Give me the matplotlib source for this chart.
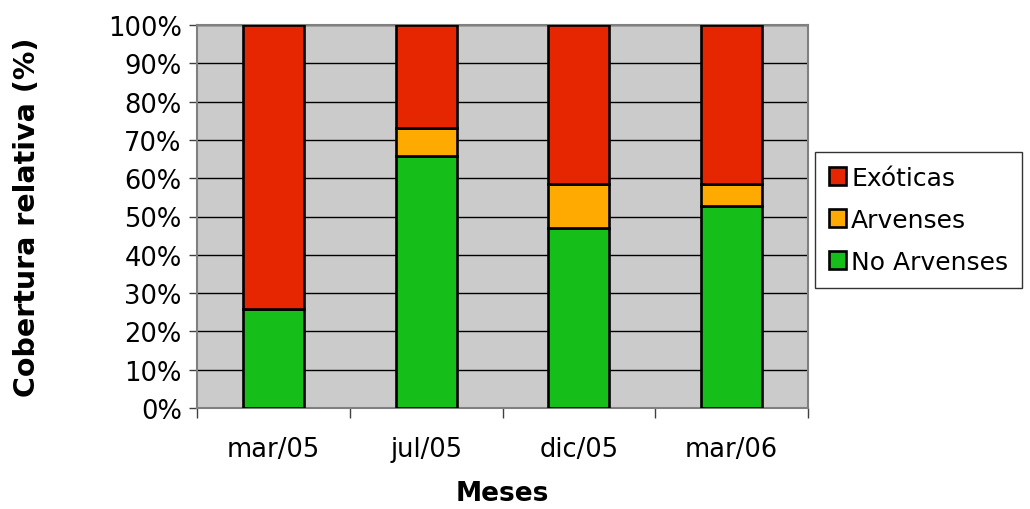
import matplotlib
matplotlib.use("Agg")
import matplotlib.pyplot as plt
import numpy as np
from matplotlib.ticker import FixedLocator, PercentFormatter

meses = ["mar/05", "jul/05", "dic/05", "mar/06"]
no_arvenses = [25.8, 65.7, 47.1, 52.8]
arvenses = [0.0, 7.3, 11.3, 5.6]
exoticas = [74.2, 27.0, 41.6, 41.6]

C_GREEN = "#16BE1A"
C_ORANGE = "#FFAA00"
C_RED = "#E62600"

plt.rcParams["font.family"] = "DejaVu Sans"

fig = plt.figure(figsize=(10.3, 5.1), dpi=100)
ax = fig.add_axes([197 / 1030, 1 - 409 / 510, 611 / 1030, 383 / 510])
ax.set_facecolor("#CBCBCB")

x = np.arange(len(meses))
no_arv = np.array(no_arvenses)
arv = np.array(arvenses)
exo = np.array(exoticas)
total = no_arv + arv + exo
no_arv, arv, exo = no_arv / total * 100, arv / total * 100, exo / total * 100

kw = dict(width=0.4, edgecolor="black", linewidth=1.9, zorder=3)
b1 = ax.bar(x, no_arv, color=C_GREEN, label="No Arvenses", **kw)
b2 = ax.bar(x, arv, bottom=no_arv, color=C_ORANGE, label="Arvenses", **kw)
b3 = ax.bar(x, exo, bottom=no_arv + arv, color=C_RED, label="Exóticas", **kw)

ax.set_xlim(-0.5, len(meses) - 0.5)
ax.set_ylim(0, 100)
ax.set_yticks(np.arange(0, 101, 10))
ax.yaxis.set_major_formatter(PercentFormatter(decimals=0))
ax.yaxis.grid(True, color="black", linewidth=1.0, zorder=1)
ax.set_axisbelow(True)

ax.xaxis.set_major_locator(FixedLocator(np.arange(-0.5, len(meses), 1.0)))
ax.xaxis.set_minor_locator(FixedLocator(x))
ax.set_xticklabels([], minor=False)
ax.set_xticklabels(meses, minor=True)
ax.tick_params(axis="x", which="major", length=7, width=1, color="#404040")
ax.tick_params(axis="x", which="minor", length=0, pad=20, labelsize=18.5)
ax.tick_params(axis="y", length=6, width=1, color="#404040", pad=5, labelsize=18.5)

for s in ax.spines.values():
    s.set_color("#808080")
    s.set_linewidth(1.5)

ax.set_ylabel("Cobertura relativa (%)", fontsize=20.5, fontweight="bold")
ax.yaxis.set_label_coords((27 - 197) / 611, 0.5)
ax.set_xlabel("Meses", fontsize=19, fontweight="bold")
ax.xaxis.set_label_coords(0.5, -(494 - 409) / 383)
ax.xaxis.label.set_verticalalignment("center")
ax.yaxis.label.set_verticalalignment("center")

leg = fig.legend(handles=[b3, b2, b1], labels=["Exóticas", "Arvenses", "No Arvenses"],
                 loc="upper left", bbox_to_anchor=(815 / 1030, 1 - 153 / 510),
                 fontsize=18, frameon=True, fancybox=False, edgecolor="black",
                 handlelength=0.7, handleheight=0.7, handletextpad=0.2,
                 labelspacing=0.72, borderpad=0.55, borderaxespad=0)
leg.get_frame().set_linewidth(1.0)

fig.savefig("out.png", dpi=100)
